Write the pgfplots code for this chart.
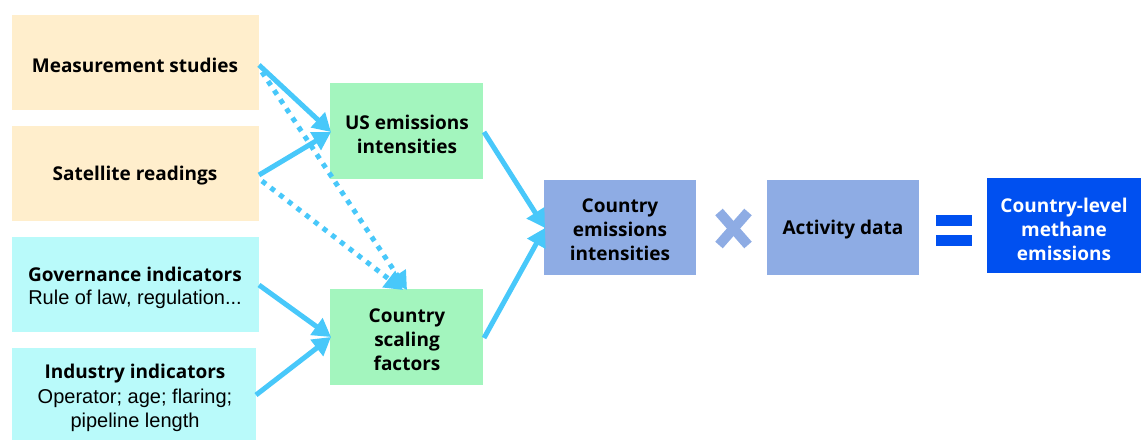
\documentclass[border=0pt]{standalone}
\usepackage{pgfplots}
\pgfplotsset{compat=1.18}
\usepackage{fontspec}
\setmainfont{Liberation Sans}
\newfontfamily\boldf[BoldFont={Open Sans Bold}]{Open Sans}
\usetikzlibrary{arrows.meta}
\definecolor{peach}{RGB}{255,238,204}
\definecolor{cyanl}{RGB}{185,250,250}
\definecolor{greenl}{RGB}{163,245,190}
\definecolor{bluel}{RGB}{142,172,228}
\definecolor{blued}{RGB}{0,80,240}
\definecolor{arr}{RGB}{72,200,250}
\begin{document}
\begin{tikzpicture}
\begin{axis}[width=1141pt, height=440pt, scale only axis,
  xmin=0, xmax=1141, ymin=0, ymax=440, y dir=reverse,
  hide axis, clip=false]
\path (axis cs:0,0) rectangle (axis cs:1141,440);
% boxes
\addplot[fill=peach, draw=none] coordinates {(12,15)(259,15)(259,110)(12,110)} --cycle;
\addplot[fill=peach, draw=none] coordinates {(12,126)(259,126)(259,221)(12,221)} --cycle;
\addplot[fill=cyanl, draw=none] coordinates {(12,237)(259,237)(259,332)(12,332)} --cycle;
\addplot[fill=cyanl, draw=none] coordinates {(12,348)(256,348)(256,440)(12,440)} --cycle;
\addplot[fill=greenl, draw=none] coordinates {(330,83)(483,83)(483,179)(330,179)} --cycle;
\addplot[fill=greenl, draw=none] coordinates {(330,289)(483,289)(483,385)(330,385)} --cycle;
\addplot[fill=bluel, draw=none] coordinates {(544,180)(696,180)(696,275)(544,275)} --cycle;
\addplot[fill=bluel, draw=none] coordinates {(767,180)(919,180)(919,275)(767,275)} --cycle;
\addplot[fill=blued, draw=none] coordinates {(987,178)(1141,178)(1141,273)(987,273)} --cycle;
% operators
\addplot[draw=bluel, line width=10pt] coordinates {(719,212)(748,245)};
\addplot[draw=bluel, line width=10pt] coordinates {(748,212)(719,245)};
\addplot[fill=blued, draw=none] coordinates {(936,215)(972,215)(972,226)(936,226)} --cycle;
\addplot[fill=blued, draw=none] coordinates {(936,235)(972,235)(972,246)(936,246)} --cycle;
% arrows
\addplot[draw=arr, line width=5pt, -{Triangle[length=18pt,width=20pt]}] coordinates {(259,65)(331,132)};
\addplot[draw=arr, line width=5pt, -{Triangle[length=18pt,width=20pt]}] coordinates {(259,175)(331,132)};
\addplot[draw=arr, line width=5pt, dash pattern=on 5pt off 6pt, -{Triangle[length=18pt,width=20pt]}] coordinates {(262,72)(407,290)};
\addplot[draw=arr, line width=5pt, dash pattern=on 5pt off 6pt, -{Triangle[length=18pt,width=20pt]}] coordinates {(262,181)(403,290)};
\addplot[draw=arr, line width=5pt, -{Triangle[length=18pt,width=20pt]}] coordinates {(259,285)(331,337)};
\addplot[draw=arr, line width=5pt, -{Triangle[length=18pt,width=20pt]}] coordinates {(256,395)(331,337)};
\addplot[draw=arr, line width=5pt, -{Triangle[length=18pt,width=20pt]}] coordinates {(484,132)(545,228)};
\addplot[draw=arr, line width=5pt, -{Triangle[length=18pt,width=20pt]}] coordinates {(484,338)(545,228)};
% text
\tikzset{bt/.style={font=\boldf\bfseries\fontsize{19}{24}\selectfont, align=center, inner sep=0pt},
         rt/.style={font=\fontsize{20}{24}\selectfont, align=center, inner sep=0pt}}
\node[bt] at (axis cs:135,65) {Measurement studies};
\node[bt] at (axis cs:135,176) {Satellite readings};
\node[bt] at (axis cs:135,274) {Governance indicators};
\node[rt] at (axis cs:135,299) {Rule of law, regulation...};
\node[bt] at (axis cs:135,374) {Industry indicators};
\node[rt] at (axis cs:135,410) {Operator; age; flaring;\\pipeline length};
\node[bt] at (axis cs:407,134) {US emissions\\intensities};
\node[bt] at (axis cs:407,340) {Country\\scaling\\factors};
\node[bt] at (axis cs:620,230) {Country\\emissions\\intensities};
\node[bt] at (axis cs:843,230) {Activity data};
\node[bt, text=white] at (axis cs:1064,229) {Country-level\\methane\\emissions};
\end{axis}
\end{tikzpicture}
\end{document}
